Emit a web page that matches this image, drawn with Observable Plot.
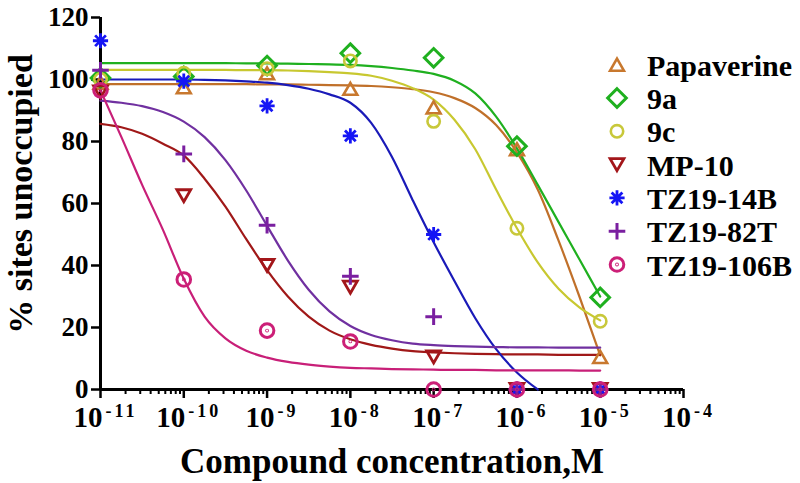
<!DOCTYPE html>
<html><head><meta charset="utf-8">
<script src="https://cdn.jsdelivr.net/npm/d3@7"></script>
<script src="https://cdn.jsdelivr.net/npm/@observablehq/plot@0.6"></script>
<style>body{margin:0;background:#fff;}#chart svg{display:block;}</style>
</head><body><div id="chart"></div>
<script>
// ---------- data ----------
const seriesNames = ["Papaverine", "9a", "9c", "MP-10", "TZ19-14B", "TZ19-82T", "TZ19-106B"];
const markerColors = ["#c8782e", "#1fb01f", "#c8c83a", "#a3161a", "#1515f5", "#7a1fa0", "#cc1f77"];
const lineColors   = ["#c0702a", "#1fb01f", "#c8c830", "#a01818", "#1a1ab8", "#7030a0", "#c81f78"];

// measured points (log10 of molar concentration)
const exponents = [-11, -10, -9, -8, -7, -6, -5];
const papaverine = [99, 97.5, 102, 97, 91, 77.5, 10.5];
const cmp9a      = [100.5, 101, 104.5, 108.5, 107, 78.5, 29.7];
const cmp9c      = [100, 102, 103.5, 106, 86.5, 52, 22];
const mp10       = [96, 62.5, 40, 33, 10.5, 0, 0];
const tz14B      = [112.5, 99.5, 91.5, 81.8, 50, 0, 0];
const tz82T      = [103, 76, 53, 36.5, 23.5, 0, 0];
const tz106B     = [96.5, 35.5, 19, 15.5, 0, 0, 0];

// fitted curves
const curveExponents = [-11, -10.75, -10.5, -10.25, -10, -9.75, -9.5, -9.25, -9, -8.75, -8.5, -8.25, -8,
                        -7.75, -7.5, -7.25, -7, -6.75, -6.5, -6.25, -6, -5.75, -5.5, -5.25, -5];
const papaverineFit = [98.5, 98.5, 98.5, 98.5, 98.5, 98.5, 98.5, 98.5, 98.4, 98.4, 98.3, 98.2, 98.1,
                       97.9, 97.5, 96.9, 95.9, 94, 90.8, 85.3, 76.5, 64.5, 48, 30, 11];
const fit9a = [105.3, 105.3, 105.3, 105.3, 105.3, 105.3, 105.3, 105.2, 105.2, 105.1, 105, 104.9, 104.7,
               104.3, 103.7, 102.9, 101.8, 99.6, 95.5, 88, 77.8, 66, 54, 42, 30];
const fit9c = [103.1, 103.1, 103.1, 103.1, 103.1, 103.1, 103.1, 103, 103, 102.9, 102.7, 102.4, 102,
               101.2, 99.6, 97.2, 93.5, 87, 77.5, 64.5, 52, 41, 32.5, 26.5, 22.3];
const fitMp10 = [85.7, 84.6, 82.5, 79.3, 75.5, 68, 59, 48.5, 38.5, 30, 23.5, 19, 16.2,
                 14.4, 13.2, 12.4, 12, 11.7, 11.5, 11.4, 11.3, 11.3, 11.2, 11.2, 11.2];
const fit14B = [100, 100, 100, 100, 100, 99.9, 99.7, 99.4, 99, 98.2, 97, 95.2, 92.5,
                86, 75, 61, 47.5, 35, 23, 13, 5.5, 0];
const fit82T = [93.2, 92.5, 91.4, 89.5, 86.4, 81.4, 74, 64.2, 52.8, 41.6, 32.2, 25.2, 20.5,
                17.6, 15.9, 14.8, 14.3, 14, 13.8, 13.7, 13.6, 13.6, 13.5, 13.5, 13.5];
const fit106B = [96.5, 81.5, 66, 51.5, 35.7, 23.5, 16.5, 12.5, 10.3, 8.9, 8, 7.4, 7.0,
                 6.8, 6.6, 6.5, 6.4, 6.3, 6.3, 6.2, 6.2, 6.2, 6.2, 6.1, 6.1];

const yTicks = [0, 20, 40, 60, 80, 100, 120];
const xTickExponents = [-11, -10, -9, -8, -7, -6, -5, -4];
const xTitle = "Compound concentration,M";
const yTitle = "% sites unoccupied";

const pointSets = [papaverine, cmp9a, cmp9c, mp10, tz14B, tz82T, tz106B];
const fitSets = [papaverineFit, fit9a, fit9c, fitMp10, fit14B, fit82T, fit106B];

// ---------- symbols ----------
const mk = fn => ({draw(c, size) { fn(c, Math.sqrt(size / Math.PI)); }});
const symTriUp = mk((c, s) => { c.moveTo(0, -s); c.lineTo(s * 1.155, s); c.lineTo(-s * 1.155, s); c.closePath(); });
const symTriDown = mk((c, s) => { c.moveTo(0, s); c.lineTo(s * 1.155, -s); c.lineTo(-s * 1.155, -s); c.closePath(); });
const symDiamond = mk((c, s) => { c.moveTo(0, -s); c.lineTo(s, 0); c.lineTo(0, s); c.lineTo(-s, 0); c.closePath(); });
const symCircle = mk((c, s) => { c.moveTo(s, 0); c.arc(0, 0, s, 0, 2 * Math.PI); });
const symAsterisk = mk((c, s) => {
  for (const a of [0, 45, 90, 135]) {
    const t = a * Math.PI / 180, dx = Math.cos(t) * s, dy = Math.sin(t) * s;
    c.moveTo(dx, dy); c.lineTo(-dx, -dy);
  }
});
const symPlus = mk((c, s) => { c.moveTo(-s, 0); c.lineTo(s, 0); c.moveTo(0, -s); c.lineTo(0, s); });
const symCircleDot = mk((c, s) => {
  c.moveTo(s, 0); c.arc(0, 0, s, 0, 2 * Math.PI);
  c.moveTo(0.4, 0); c.arc(0, 0, 0.4, 0, 2 * Math.PI);
});
const symbols = [symTriUp, symDiamond, symCircle, symTriDown, symAsterisk, symPlus, symCircleDot];
const symbolRadius = [6, 9.3, 6.2, 6, 7.6, 8.3, 6.8];
const symbolStroke = [2.6, 3, 2.6, 2.8, 2.8, 3, 3];

// ---------- marks ----------
const lineMarks = fitSets.map((vals, i) => Plot.line(
  vals.map((v, j) => ({x: Math.pow(10, curveExponents[j]), y: v})),
  {x: "x", y: "y", stroke: lineColors[i], strokeWidth: 2.2, curve: "monotone-x"}
));
const dotMarks = pointSets.map((vals, i) => Plot.dot(
  vals.map((v, j) => ({x: Math.pow(10, exponents[j]), y: v})),
  {x: "x", y: "y", symbol: symbols[i], r: symbolRadius[i], stroke: markerColors[i], fill: "none", strokeWidth: symbolStroke[i]}
));

const minorTicks = [];
for (let d = -11; d < -4; d++) for (let k = 2; k <= 9; k++) minorTicks.push(k * Math.pow(10, d));

const chart = Plot.plot({
  width: 800, height: 483,
  marginLeft: 100, marginRight: 117, marginTop: 17, marginBottom: 94,
  x: {type: "log", domain: [1e-11, 1e-4]},
  y: {domain: [0, 120]},
  style: {fontFamily: "Liberation Serif, Times New Roman, serif", background: "white", color: "black"},
  marks: [
    Plot.axisY({ticks: yTicks, tickSize: 9, tickPadding: 3, fontSize: 27, strokeWidth: 2.5, label: null}),
    Plot.axisX({ticks: xTickExponents.map(e => Math.pow(10, e)), tickSize: 9, tickPadding: 8, fontSize: 29,
                strokeWidth: 2.5, label: null, tickFormat: d => String(Math.round(Math.log10(d)))}),
    Plot.axisX({ticks: minorTicks, tickSize: 5, strokeWidth: 2, label: null, tickFormat: () => ""}),
    Plot.ruleX([1e-11], {stroke: "black", strokeWidth: 3}),
    Plot.ruleY([0], {stroke: "black", strokeWidth: 3}),
    ...lineMarks,
    ...dotMarks
  ]
});

const svg = d3.select(chart);
svg.selectAll("text").style("font-weight", "bold");
// superscript exponents on the x tick labels
svg.selectAll('g[aria-label="x-axis tick label"] text').each(function () {
  const t = this.textContent;
  if (!t) { d3.select(this).remove(); return; }
  const sel = d3.select(this);
  sel.text(null);
  sel.append("tspan").text("10");
  sel.append("tspan").attr("dy", -10).attr("dx", 3).style("font-size", "18px").style("letter-spacing", "3px").text(t);
  sel.attr("dx", 5);
});

// axis titles
svg.append("text").attr("x", 392).attr("y", 473).attr("text-anchor", "middle")
  .style("font-size", "35px").style("font-weight", "bold").style("font-family", "Liberation Serif, serif").text(xTitle);
svg.append("text").attr("transform", "translate(32,194) rotate(-90)").attr("text-anchor", "middle")
  .style("font-size", "34px").style("font-weight", "bold").style("font-family", "Liberation Serif, serif").text(yTitle);

// legend
const legend = svg.append("g").attr("aria-label", "legend").attr("text-anchor", "start");
seriesNames.forEach((name, i) => {
  const cy = 64.7 + i * 33.3;
  const r = symbolRadius[i];
  legend.append("path")
    .attr("transform", `translate(617,${cy})`)
    .attr("d", d3.symbol(symbols[i], Math.PI * r * r)())
    .attr("fill", "none").attr("stroke", markerColors[i]).attr("stroke-width", symbolStroke[i]);
  legend.append("text").attr("x", 647).attr("y", cy + 11).attr("text-anchor", "start")
    .style("font-size", "30px").style("font-weight", "bold").style("font-family", "Liberation Serif, serif")
    .text(name);
});

document.getElementById("chart").appendChild(chart);
</script>
</body></html>
